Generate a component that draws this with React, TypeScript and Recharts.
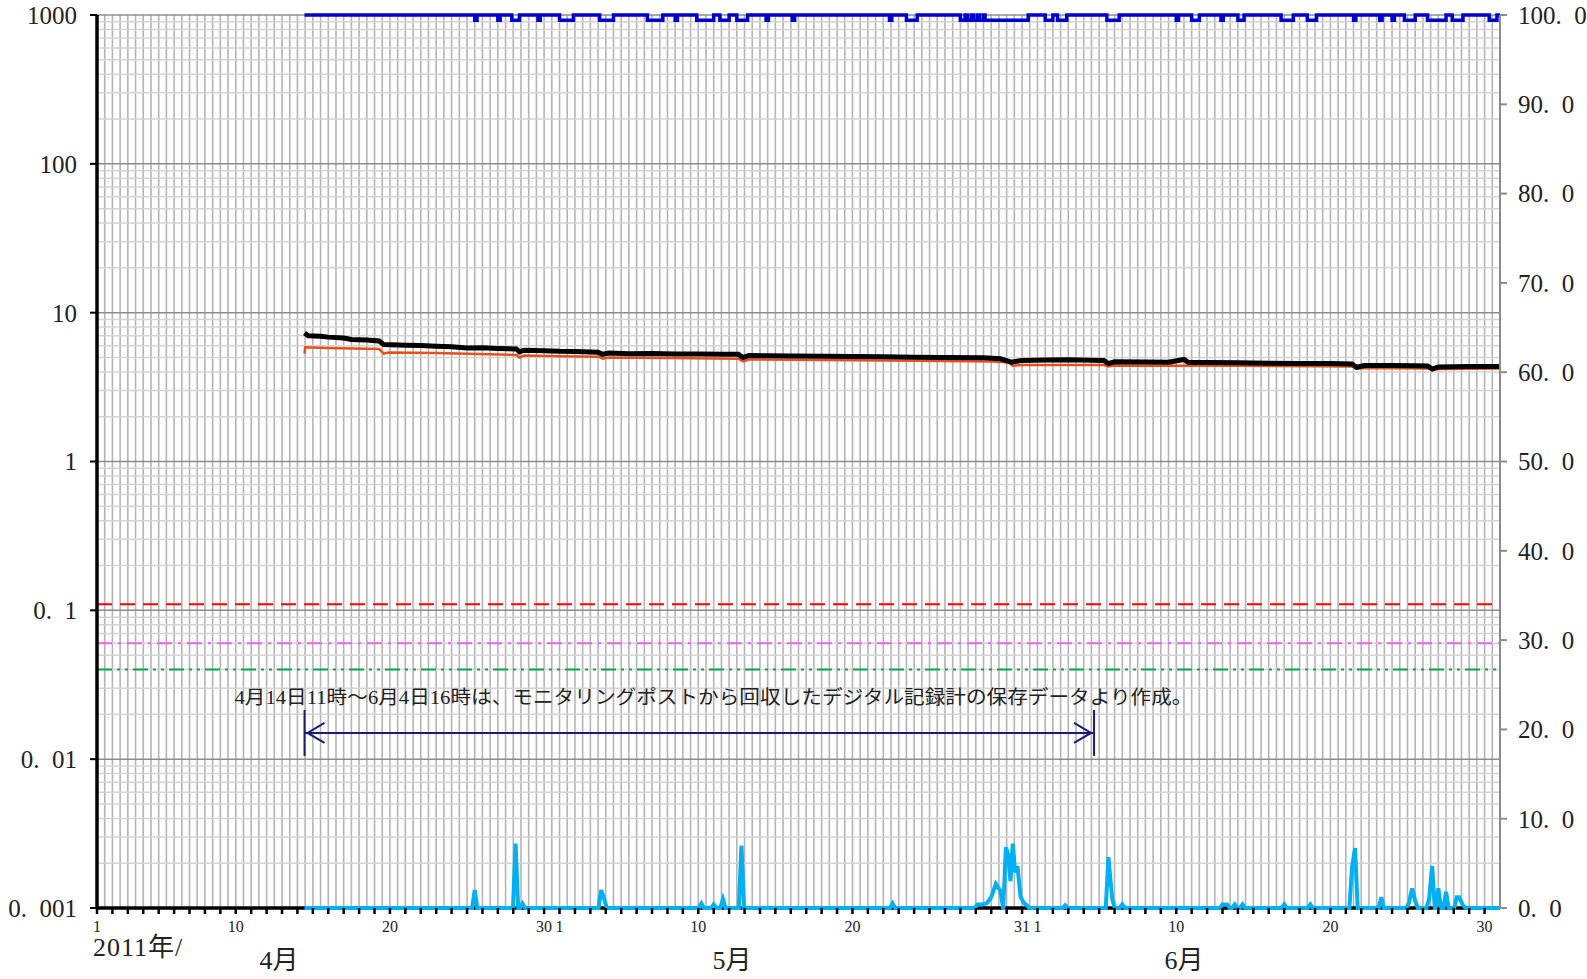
import React from "react";
import { ComposedChart, Line, XAxis, YAxis, CartesianGrid, ReferenceLine } from "recharts";

const FONT = "'Liberation Serif', 'DejaVu Serif', 'Noto Sans CJK JP', serif";

// x is the day counted from 2011-04-01 (1 = 4/1, 31 = 5/1, 62 = 6/1, 92 = 7/1)
const leftTicks = [0.001, 0.01, 0.1, 1, 10, 100, 1000];
const leftTickLabels = ["0.\u2002001", "0.\u200201", "0.\u20021", "1", "10", "100", "1000"];
const rightTicks = [0, 10, 20, 30, 40, 50, 60, 70, 80, 90, 100];
const xLabelDays = [1, 10, 20, 30, 31, 40, 50, 61, 62, 71, 81, 91];
const xLabelTexts = ["1", "10", "20", "30", "1", "10", "20", "31", "1", "10", "20", "30"];
const monthNames = ["4月", "5月", "6月"];

// dose rate (left axis, log)
const doseBlack: [number, number][] = [
  [14.46, 7.3], [14.7, 7.0], [15.5, 6.95], [16, 6.85], [17, 6.75], [17.5, 6.6], [18.5, 6.55],
  [19.3, 6.45], [19.6, 6.1], [21, 6.05], [22, 6.02], [23, 5.95], [24, 5.9], [25, 5.8], [26, 5.82],
  [27, 5.75], [28.2, 5.7], [28.4, 5.45], [28.7, 5.6], [30, 5.55], [31, 5.5], [32, 5.48],
  [33.5, 5.42], [33.8, 5.25], [34.2, 5.35], [35.5, 5.3], [37, 5.32], [38.5, 5.28], [40, 5.28],
  [41.5, 5.25], [42.6, 5.25], [42.9, 5.0], [43.3, 5.15], [44.5, 5.14], [46, 5.12], [48, 5.1],
  [50, 5.08], [52, 5.06], [54, 5.02], [56, 5.0], [58.5, 4.97], [59.6, 4.9], [60.3, 4.65],
  [61, 4.78], [62.5, 4.8], [64, 4.82], [66.3, 4.78], [66.6, 4.55], [67, 4.68], [69, 4.66],
  [70.5, 4.65], [71.5, 4.85], [71.8, 4.62], [73, 4.62], [75, 4.6], [77, 4.58], [79, 4.56],
  [81, 4.55], [82.4, 4.52], [82.7, 4.3], [83.2, 4.42], [85, 4.42], [86.5, 4.4], [87.3, 4.38],
  [87.6, 4.18], [88, 4.32], [90, 4.35], [92, 4.35],
];
const doseOrange: [number, number][] = [
  [14.46, 5.3], [14.5, 5.85], [16, 5.8], [19.3, 5.7], [19.6, 5.3], [19.9, 5.4], [23, 5.35],
  [25, 5.3], [28.2, 5.2], [28.4, 5.0], [28.7, 5.15], [31, 5.1], [33.6, 5.05], [33.8, 4.9],
  [34.2, 5.0], [38, 4.95], [42.6, 4.9], [42.9, 4.7], [43.3, 4.85], [48, 4.8], [54, 4.75],
  [59, 4.7], [60.1, 4.65], [60.4, 4.4], [61, 4.45], [66.3, 4.45], [66.6, 4.35], [67, 4.42],
  [75, 4.4], [82.4, 4.35], [82.7, 4.2], [83.2, 4.25], [87.4, 4.22], [87.6, 4.12], [88, 4.18],
  [92, 4.22],
];

// rainfall peaks (right axis)
const rainPeaks: [number, number][] = [
  [25.5, 2.0], [28.15, 7.2], [28.6, 0.5], [33.7, 2.0], [33.9, 1.0], [40.2, 0.5], [41.0, 0.4],
  [41.6, 1.0], [42.8, 7.0], [52.6, 0.5], [58.1, 0.4], [58.4, 0.4], [58.7, 0.5], [59.0, 1.2],
  [59.3, 2.7], [59.6, 1.9], [59.95, 6.8], [60.1, 6.0], [60.25, 3.0], [60.4, 7.2], [60.55, 4.0],
  [60.7, 4.7], [60.9, 1.3], [61.1, 0.6], [61.3, 0.3], [63.8, 0.3], [66.6, 5.7], [66.85, 1.0],
  [67.5, 0.4], [74.0, 0.4], [74.3, 0.4], [74.8, 0.4], [75.3, 0.4], [78.0, 0.4], [79.7, 0.4],
  [82.4, 4.5], [82.6, 6.7], [84.3, 1.2], [86.1, 0.6], [86.3, 2.2], [86.5, 0.8], [87.4, 1.0],
  [87.6, 4.7], [88.0, 2.2], [88.5, 1.8], [89.2, 1.2], [89.35, 1.2], [89.6, 0.3],
];

// periods when the blue series (right axis) drops from 100 to 99.4
const dropLevel = 99.4;
const blueDrops: [number, number][] = [
  [25.5, 25.65], [27.0, 27.15], [27.9, 28.4], [29.6, 29.75], [31.0, 31.9], [33.6, 34.5],
  [36.7, 37.7], [38.5, 38.65], [39.9, 41.0], [41.4, 42.0], [42.5, 43.2], [44.4, 44.55],
  [46.1, 46.25], [52.4, 52.55], [53.5, 54.2], [57.0, 57.3], [57.45, 57.7], [57.85, 58.1],
  [58.25, 58.5], [58.6, 61.4], [62.5, 63.0], [63.3, 63.9], [66.5, 67.3], [71.0, 71.15],
  [72.0, 72.5], [73.9, 74.05], [75.0, 75.4], [77.8, 78.6], [79.5, 80.1], [82.5, 82.65],
  [84.2, 84.35], [85.0, 85.15], [85.8, 86.5], [87.3, 88.5], [88.9, 89.6], [91.3, 91.8],
];

const axisStart = 1;
const seriesStart = 14.46; // 4/14 11時
const seriesEnd = 92;
const recordEnd = 65.67; // 6/4 16時
const limitRed = 0.11;
const limitPink = 0.06;
const limitGreen = 0.04;
const arrowLevel = 0.015;
const note = "4月14日11時～6月4日16時は、モニタリングポストから回収したデジタル記録計の保存データより作成。";

const blackData = doseBlack.map(([x, v]) => ({ x, v }));
const orangeData = doseOrange.map(([x, v]) => ({ x, v }));
const baseData = [{ x: axisStart, v: 0 }, { x: seriesEnd, v: 0 }];

const rainData: { x: number; v: number }[] = [{ x: seriesStart, v: 0 }];
const hw = 0.17;
rainPeaks.forEach(([d, v], i) => {
  const prev = rainPeaks[i - 1];
  const next = rainPeaks[i + 1];
  if (!prev || prev[0] + hw < d - hw) rainData.push({ x: d - hw, v: 0 });
  rainData.push({ x: d, v });
  if (!next || next[0] - hw > d + hw) rainData.push({ x: d + hw, v: 0 });
});
rainData.push({ x: seriesEnd, v: 0 });

const blueData: { x: number; v: number }[] = [{ x: seriesStart, v: 100 }];
blueDrops.forEach(([s, e]) => {
  blueData.push({ x: s, v: 100 }, { x: s, v: dropLevel }, { x: e, v: dropLevel }, { x: e, v: 100 });
});
blueData.push({ x: seriesEnd, v: 100 });

const dayTicks = Array.from({ length: 91 }, (_, i) => i + 1);
const halfDays = Array.from({ length: 182 }, (_, i) => 1.5 + i * 0.5);
const minorLogs: number[] = [];
[0.001, 0.01, 0.1, 1, 10, 100].forEach((b) => {
  for (let k = 2; k <= 9; k++) minorLogs.push(+(b * k).toPrecision(3));
});

const DayTick = (p: any) => {
  const i = xLabelDays.indexOf(p.payload.value);
  if (i < 0) return <g />;
  return (
    <text x={p.x} y={p.y + 16} textAnchor="middle" fontSize={16} fill="#222" fontFamily={FONT}>
      {xLabelTexts[i]}
    </text>
  );
};

const ArrowShape = (p: any) => {
  const { x1, y1, x2, y2 } = p;
  const c = "#1c1c70";
  return (
    <g>
      <line x1={x1} y1={y1} x2={x2} y2={y2} stroke={c} strokeWidth={2} />
      <line x1={x1} y1={y1 - 23} x2={x1} y2={y1 + 23} stroke={c} strokeWidth={2} />
      <line x1={x2} y1={y2 - 23} x2={x2} y2={y2 + 23} stroke={c} strokeWidth={2} />
      <polyline points={`${x1 + 20},${y1 - 10} ${x1 + 3},${y1} ${x1 + 20},${y1 + 10}`} fill="none" stroke={c} strokeWidth={2} />
      <polyline points={`${x2 - 20},${y2 - 10} ${x2 - 3},${y2} ${x2 - 20},${y2 + 10}`} fill="none" stroke={c} strokeWidth={2} />
      <text x={x1 - 70} y={y1 - 29} fontSize={19} fill="#222" fontFamily={FONT} textLength={958} lengthAdjust="spacingAndGlyphs">
        {note}
      </text>
    </g>
  );
};

const labelStyle: React.CSSProperties = {
  position: "absolute",
  fontFamily: FONT,
  fontSize: 26,
  lineHeight: 1,
  color: "#222",
  whiteSpace: "nowrap",
};

export default function App() {
  return (
    <div style={{ position: "absolute", left: 0, top: 0, width: 1587, height: 979, background: "#fff" }}>
      <ComposedChart width={1587} height={979} margin={{ top: 15, right: 0, bottom: 0, left: 0 }}>
        <CartesianGrid yAxisId="left" horizontal={false} verticalValues={halfDays} stroke="#b4b4b4" strokeWidth={1.6} />
        <CartesianGrid yAxisId="left" vertical={false} horizontalValues={minorLogs} stroke="#d4d4d4" strokeWidth={1.5} />
        <CartesianGrid yAxisId="left" vertical={false} horizontalValues={leftTicks} stroke="#8c8c8c" strokeWidth={1.5} />
        <XAxis
          dataKey="x"
          type="number"
          domain={[1, 92]}
          ticks={dayTicks}
          interval={0}
          height={71}
          axisLine={false}
          tickLine={{ stroke: "#000", strokeWidth: 2.5 }}
          tickSize={6}
          tick={DayTick}
        />
        <YAxis
          yAxisId="left"
          scale="log"
          domain={[0.001, 1000]}
          allowDataOverflow
          ticks={leftTicks}
          interval={0}
          width={97}
          axisLine={{ stroke: "#000", strokeWidth: 3.5 }}
          tickLine={{ stroke: "#000", strokeWidth: 2 }}
          tickSize={7}
          tickMargin={13}
          tickFormatter={(v: number) => leftTickLabels[leftTicks.indexOf(v)] ?? String(v)}
          tick={{ fontSize: 25, fill: "#222", fontFamily: FONT }}
        />
        <YAxis
          yAxisId="right"
          orientation="right"
          domain={[0, 100]}
          ticks={rightTicks}
          interval={0}
          width={87}
          axisLine={{ stroke: "#8c8c8c", strokeWidth: 2 }}
          tickLine={{ stroke: "#8c8c8c", strokeWidth: 2 }}
          tickSize={7}
          tickMargin={11}
          tickFormatter={(v: number) => `${v}.\u20020`}
          tick={{ fontSize: 25, fill: "#222", fontFamily: FONT }}
        />
        <ReferenceLine yAxisId="left" y={limitRed} stroke="#ff0000" strokeWidth={2} strokeDasharray="15 8" />
        <ReferenceLine yAxisId="left" y={limitPink} stroke="#f060f0" strokeWidth={2} strokeDasharray="15 6 3 6" />
        <ReferenceLine yAxisId="left" y={limitGreen} stroke="#00a84a" strokeWidth={2} strokeDasharray="15 5 3 5 3 5" />
        <ReferenceLine
          yAxisId="left"
          segment={[{ x: seriesStart, y: arrowLevel }, { x: recordEnd, y: arrowLevel }]}
          shape={ArrowShape}
        />
        <Line yAxisId="right" data={baseData} dataKey="v" type="linear" stroke="#000" strokeWidth={3.5} dot={false} activeDot={false} isAnimationActive={false} />
        <Line yAxisId="right" data={rainData} dataKey="v" type="linear" stroke="#00b0f0" strokeWidth={4} dot={false} activeDot={false} isAnimationActive={false} />
        <Line yAxisId="right" data={blueData} dataKey="v" type="linear" stroke="#0000cc" strokeWidth={3.5} dot={false} activeDot={false} isAnimationActive={false} />
        <Line yAxisId="left" data={orangeData} dataKey="v" type="linear" stroke="#e5501c" strokeWidth={2.5} dot={false} activeDot={false} isAnimationActive={false} />
        <Line yAxisId="left" data={blackData} dataKey="v" type="linear" stroke="#000" strokeWidth={5} dot={false} activeDot={false} isAnimationActive={false} />
      </ComposedChart>
      <div style={{ ...labelStyle, left: 93, top: 935, letterSpacing: 1 }}>2011年/</div>
      <div style={{ ...labelStyle, left: 279, top: 948, transform: "translateX(-50%)" }}>{monthNames[0]}</div>
      <div style={{ ...labelStyle, left: 732, top: 948, transform: "translateX(-50%)" }}>{monthNames[1]}</div>
      <div style={{ ...labelStyle, left: 1184, top: 948, transform: "translateX(-50%)" }}>{monthNames[2]}</div>
    </div>
  );
}
